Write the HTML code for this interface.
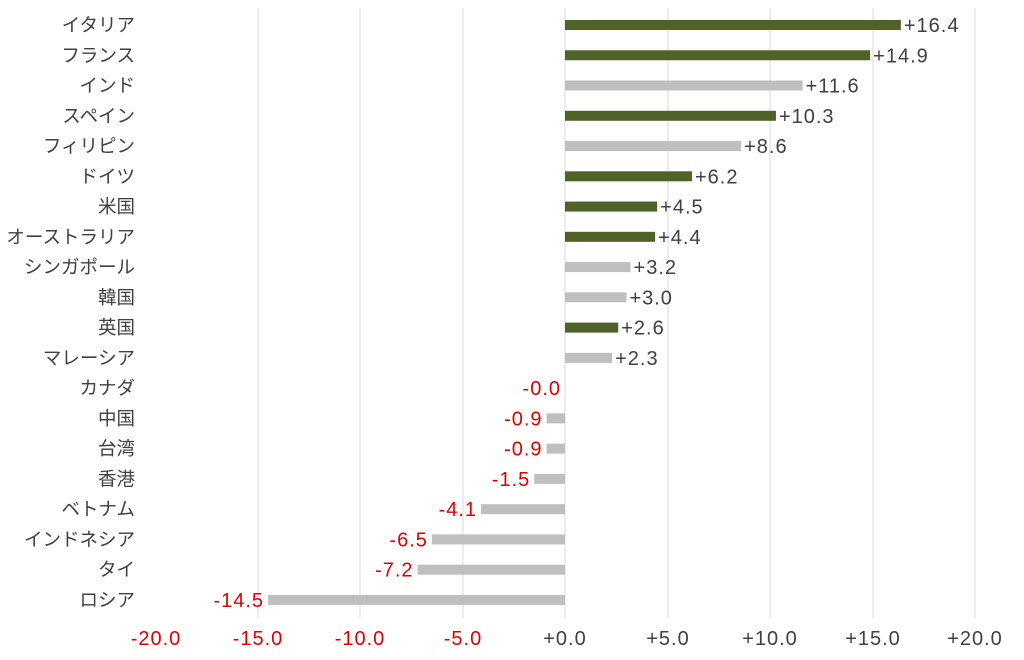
<!DOCTYPE html>
<html><head><meta charset="utf-8"><style>
body{margin:0;background:#fff}
svg{display:block;font-family:"Liberation Sans","Noto Sans CJK JP",sans-serif}
.n{font-size:20px;letter-spacing:1px}
</style></head><body>
<svg width="1024" height="660" viewBox="0 0 1024 660">
<g stroke="#d9d9d9" stroke-width="1">
<line x1="258" y1="8" x2="258" y2="618"/><line x1="360" y1="8" x2="360" y2="618"/>
<line x1="463" y1="8" x2="463" y2="618"/><line x1="565" y1="8" x2="565" y2="618"/>
<line x1="668" y1="8" x2="668" y2="618"/><line x1="770" y1="8" x2="770" y2="618"/>
<line x1="873" y1="8" x2="873" y2="618"/><line x1="975" y1="8" x2="975" y2="618"/>
</g>
<g id="bars"></g>
<g class="n" text-anchor="middle">
<text x="156" y="645" fill="#e00000">-20.0</text><text x="258" y="645" fill="#e00000">-15.0</text>
<text x="360" y="645" fill="#e00000">-10.0</text><text x="463" y="645" fill="#e00000">-5.0</text>
<text x="565" y="645" fill="#404040">+0.0</text><text x="668" y="645" fill="#404040">+5.0</text>
<text x="770" y="645" fill="#404040">+10.0</text><text x="873" y="645" fill="#404040">+15.0</text>
<text x="975" y="645" fill="#404040">+20.0</text>
</g>
</svg>
<script>
const d=[["イタリア",16.4,1],["フランス",14.9,1],["インド",11.6,0],["スペイン",10.3,1],["フィリピン",8.6,0],["ドイツ",6.2,1],["米国",4.5,1],["オーストラリア",4.4,1],["シンガポール",3.2,0],["韓国",3.0,0],["英国",2.6,1],["マレーシア",2.3,0],["カナダ",-0.0,0],["中国",-0.9,0],["台湾",-0.9,0],["香港",-1.5,0],["ベトナム",-4.1,0],["インドネシア",-6.5,0],["タイ",-7.2,0],["ロシア",-14.5,0]];
let s="";const z=565,k=20.48;
d.forEach((r,i)=>{const y=25+i*30.26;const v=r[1];const w=Math.abs(v)*k;const neg=v<0||Object.is(v,-0);
const x=neg?z-w:z;
s+=`<rect x="${x}" y="${y-5}" width="${w}" height="10" fill="${r[2]?'#4f6228':'#bfbfbf'}"/>`;
s+=`<text x="135" y="${y+6.5}" font-size="18.5" fill="#404040" text-anchor="end">${r[0]}</text>`;
const lbl=neg?(v===0?'-0.0':v.toFixed(1)):'+'+v.toFixed(1);
s+=neg?`<text class="n" x="${z-w-4}" y="${y+7}" fill="#e00000" text-anchor="end">${lbl}</text>`
:`<text class="n" x="${z+w+3}" y="${y+7}" fill="#404040">${lbl}</text>`;});
document.getElementById("bars").innerHTML=s;
</script>
</body></html>
